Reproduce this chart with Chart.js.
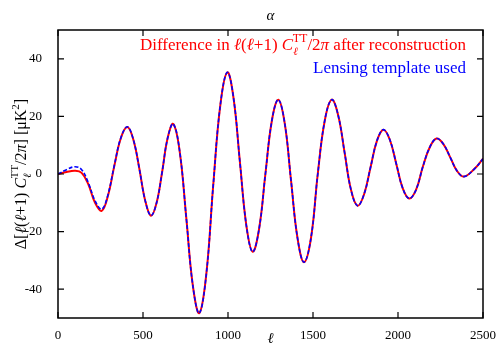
<!DOCTYPE html>
<html>
<head>
<meta charset="utf-8">
<script src="https://cdn.jsdelivr.net/npm/chart.js@4"></script>
<style>
  html, body { margin: 0; padding: 0; background: #fff; }
  #wrap { width: 500px; height: 350px; }
</style>
</head>
<body>
<div id="wrap"><canvas id="myChart"></canvas></div>
<script>
// multipoles and the two curves
const ells = [0, 50, 100, 139, 178, 218, 257, 292, 332, 370, 408, 443, 478, 512, 547,
  580, 612, 645, 678, 716, 755, 793, 831, 872, 913, 955, 996, 1033, 1070, 1108, 1145,
  1183, 1220, 1258, 1296, 1334, 1371, 1409, 1447, 1488, 1528, 1569, 1610, 1648, 1686,
  1724, 1762, 1800, 1838, 1876, 1914, 1952, 1990, 2028, 2066, 2106, 2146, 2187, 2227,
  2267, 2308, 2348, 2388, 2450, 2500];
const diffReconstruction = [0, 0.7, 1.1, 0.4, -3.5, -10, -12.8, -8, 3, 12.5, 16.3, 12, 2, -9, -14.5,
  -10, 0.5, 12.5, 17.4, 7.8, -15.5, -38.7, -48.3, -35, -4, 24, 35.3, 26.2, 4.2, -17.9, -27,
  -19, 0, 18.5, 25.8, 17.5, -2.4, -22.3, -30.6, -22.3, 0, 18.5, 25.8, 20.4, 7.4,
  -5.6, -11, -7.1, 2.2, 11.5, 15.4, 11.9, 3.5, -5, -8.5, -5.5, 2.5, 9.3, 12.3,
  10.4, 5.7, 1, -0.9, 1.8, 5.3];
const lensingTemplate = [0, 1.5, 2.5, 1.5, -3, -9.3, -12.2, -7.6, 3.2, 12.6, 16.4, 12, 2, -9, -14.4,
  -10, 0.5, 12.5, 17.4, 7.8, -15.5, -38.7, -48.3, -35, -4, 24, 35.3, 26.2, 4.2, -17.9, -27,
  -19, 0, 18.5, 25.8, 17.5, -2.4, -22.3, -30.6, -22.3, 0, 18.5, 25.8, 20.4, 7.4,
  -5.6, -11, -7.1, 2.2, 11.5, 15.4, 11.9, 3.5, -5, -8.5, -5.5, 2.5, 9.3, 12.3,
  10.4, 5.7, 1, -0.9, 1.8, 5.3];

const xTicks = [0, 500, 1000, 1500, 2000, 2500];
const yTicks = [-40, -20, 0, 20, 40];

const serif = '"Liberation Serif", "DejaVu Serif", serif';

// draws a run of text pieces: {t, italic, dy, size}
function drawPieces(ctx, pieces, x, y, color, align, base) {
  base = base || 16;
  let total = 0;
  const widths = pieces.map(p => {
    ctx.font = (p.italic ? 'italic ' : '') + (p.size || base) + 'px ' + serif;
    const w = ctx.measureText(p.t).width + (p.after || 0);
    total += w;
    return w;
  });
  let cx = align === 'right' ? x - total : (align === 'center' ? x - total / 2 : x);
  ctx.fillStyle = color;
  ctx.textAlign = 'left';
  ctx.textBaseline = 'alphabetic';
  pieces.forEach((p, i) => {
    ctx.font = (p.italic ? 'italic ' : '') + (p.size || base) + 'px ' + serif;
    ctx.fillText(p.t, cx, y + (p.dy || 0));
    cx += widths[i];
  });
}

const framePlugin = {
  id: 'frame',
  afterDraw(chart) {
    const ctx = chart.ctx;
    const a = chart.chartArea;
    const xs = chart.scales.x, ys = chart.scales.y;
    ctx.save();
    ctx.strokeStyle = '#000';
    ctx.lineWidth = 1.5;
    ctx.strokeRect(a.left, a.top, a.right - a.left, a.bottom - a.top);
    ctx.lineWidth = 1.2;
    ctx.beginPath();
    xTicks.forEach(v => {
      const px = xs.getPixelForValue(v);
      ctx.moveTo(px, a.bottom); ctx.lineTo(px, a.bottom - 6);
      ctx.moveTo(px, a.top); ctx.lineTo(px, a.top + 6);
    });
    yTicks.forEach(v => {
      const py = ys.getPixelForValue(v);
      ctx.moveTo(a.left, py); ctx.lineTo(a.left + 6, py);
      ctx.moveTo(a.right, py); ctx.lineTo(a.right - 6, py);
    });
    ctx.stroke();

    // title
    drawPieces(ctx, [{ t: 'α', italic: true, size: 15 }], (a.left + a.right) / 2, 20, '#000', 'center');
    // x label
    drawPieces(ctx, [{ t: 'ℓ', italic: true, size: 15 }], (a.left + a.right) / 2, 343, '#000', 'center');

    // legend texts
    drawPieces(ctx, [
      { t: 'Difference in ' },
      { t: 'ℓ', italic: true },
      { t: '(' },
      { t: 'ℓ', italic: true },
      { t: '+1) ' },
      { t: 'C', italic: true },
      { t: 'ℓ', italic: true, size: 11, dy: 5, after: -5 },
      { t: 'TT', size: 12, dy: -8 },
      { t: '/2' },
      { t: 'π', italic: true },
      { t: ' after reconstruction' }
    ], 466, 50, '#ff0000', 'right', 17);
    drawPieces(ctx, [{ t: 'Lensing template used' }], 466, 73, '#0000ff', 'right', 17);

    // y label, rotated
    ctx.translate(26, (a.top + a.bottom) / 2);
    ctx.rotate(-Math.PI / 2);
    drawPieces(ctx, [
      { t: 'Δ[' },
      { t: 'ℓ', italic: true },
      { t: '(' },
      { t: 'ℓ', italic: true },
      { t: '+1) ' },
      { t: 'C', italic: true },
      { t: 'ℓ', italic: true, size: 11, dy: 5, after: -5 },
      { t: 'TT', size: 11, dy: -8 },
      { t: '/2' },
      { t: 'π', italic: true },
      { t: '] [μK' },
      { t: '2', size: 11, dy: -7 },
      { t: ']' }
    ], 0, 0, '#000', 'center', 16);
    ctx.restore();
  }
};

const ctx = document.getElementById('myChart').getContext('2d');
const myChart = new Chart(ctx, {
  type: 'line',
  data: {
    datasets: [{
      label: 'Difference after reconstruction',
      data: ells.map((l, i) => ({ x: l, y: diffReconstruction[i] })),
      borderColor: '#ff0000',
      borderWidth: 2,
      pointRadius: 0,
      tension: 0.4,
      order: 2
    }, {
      label: 'Lensing template used',
      data: ells.map((l, i) => ({ x: l, y: lensingTemplate[i] })),
      borderColor: '#0000ff',
      borderWidth: 1.6,
      borderDash: [4, 2],
      pointRadius: 0,
      tension: 0.4,
      order: 1
    }]
  },
  options: {
    responsive: true,
    maintainAspectRatio: false,
    animation: false,
    layout: { padding: { top: 30, right: 17, left: 0, bottom: 0 } },
    plugins: { legend: { display: false }, tooltip: { enabled: false } },
    scales: {
      x: {
        type: 'linear',
        min: 0, max: 2500,
        afterBuildTicks: s => { s.ticks = xTicks.map(v => ({ value: v })); },
        afterFit: s => { s.height = 32; },
        grid: { display: false },
        border: { display: false },
        ticks: { color: '#000', font: { family: serif, size: 13 }, padding: 2, maxRotation: 0,
          callback: v => String(v) }
      },
      y: {
        min: -50, max: 50,
        afterBuildTicks: s => { s.ticks = yTicks.map(v => ({ value: v })); },
        afterFit: s => { s.width = 58; },
        grid: { display: false },
        border: { display: false },
        ticks: { color: '#000', font: { family: serif, size: 13 }, padding: 8 }
      }
    }
  },
  plugins: [framePlugin]
});
</script>
</body>
</html>
